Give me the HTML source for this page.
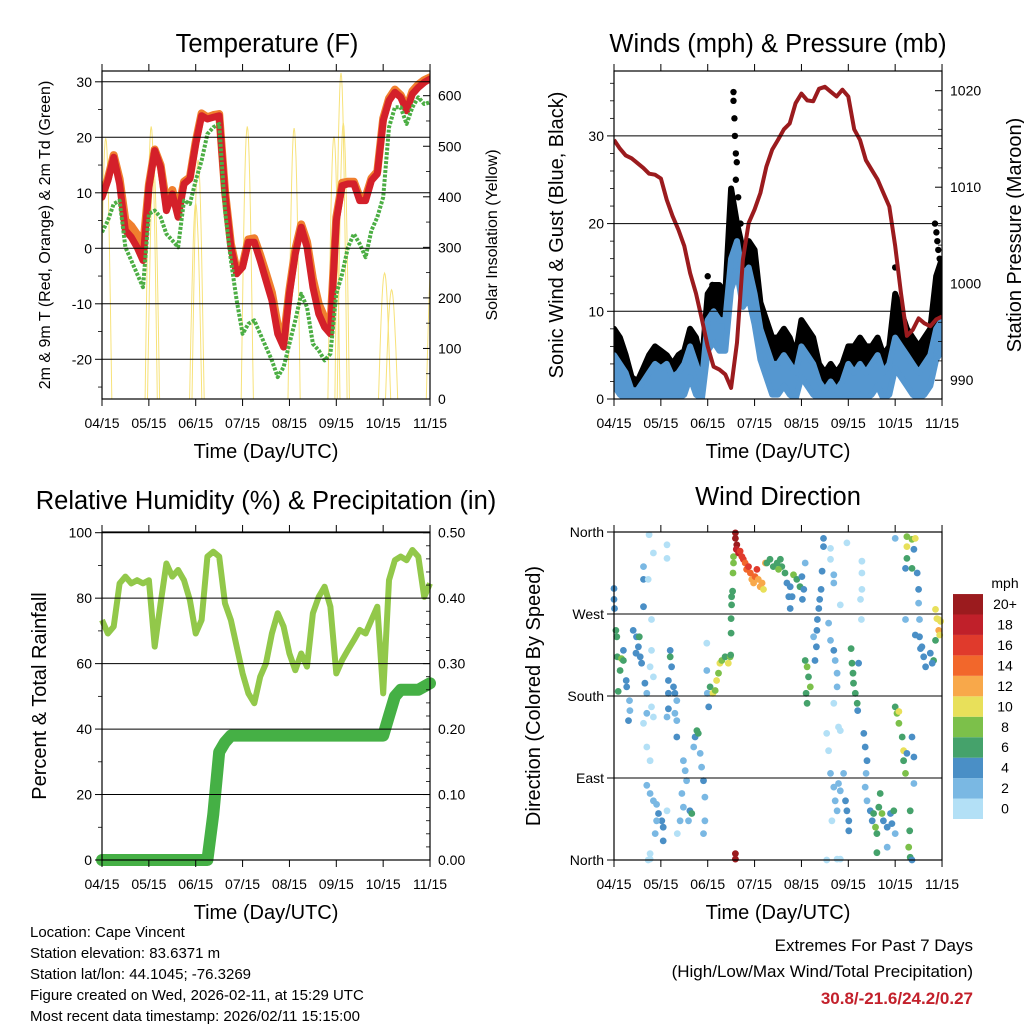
<!DOCTYPE html>
<html><head><meta charset="utf-8">
<style>
html,body{margin:0;padding:0;background:#fff;}
svg{display:block;font-family:"Liberation Sans",Arial,sans-serif;}
</style></head>
<body>
<svg id="fig" width="1024" height="1024" viewBox="0 0 1024 1024" xmlns="http://www.w3.org/2000/svg">
<rect width="1024" height="1024" fill="#fff"/>
<g id="p1"></g>
<g id="p2"></g>
<g id="p3"></g>
<g id="p4"></g>

<text x="267" y="52" font-size="25.5" text-anchor="middle">Temperature (F)</text>
<text x="778" y="52" font-size="25.5" text-anchor="middle">Winds (mph) &amp; Pressure (mb)</text>
<text x="266" y="509" font-size="25.5" text-anchor="middle">Relative Humidity (%) &amp; Precipitation (in)</text>
<text x="778" y="505" font-size="25.5" text-anchor="middle">Wind Direction</text>

<text x="266" y="458" font-size="20" text-anchor="middle">Time (Day/UTC)</text>
<text x="778" y="458" font-size="20" text-anchor="middle">Time (Day/UTC)</text>
<text x="266" y="919" font-size="20" text-anchor="middle">Time (Day/UTC)</text>
<text x="778" y="919" font-size="20" text-anchor="middle">Time (Day/UTC)</text>

<text transform="translate(50,235) rotate(-90)" font-size="16" text-anchor="middle">2m &amp; 9m T (Red, Orange) &amp; 2m Td (Green)</text>
<text transform="translate(497,235) rotate(-90)" font-size="16" text-anchor="middle">Solar Insolation (Yellow)</text>
<text transform="translate(563,235) rotate(-90)" font-size="20" text-anchor="middle">Sonic Wind &amp; Gust (Blue, Black)</text>
<text transform="translate(1021,235) rotate(-90)" font-size="20" text-anchor="middle">Station Pressure (Maroon)</text>
<text transform="translate(46,696) rotate(-90)" font-size="20" text-anchor="middle">Percent &amp; Total Rainfall</text>
<text transform="translate(540,696) rotate(-90)" font-size="20" text-anchor="middle">Direction (Colored By Speed)</text>

<g font-size="15">
<text x="30" y="937">Location: Cape Vincent</text>
<text x="30" y="958">Station elevation: 83.6371 m</text>
<text x="30" y="979">Station lat/lon: 44.1045; -76.3269</text>
<text x="30" y="1000">Figure created on Wed, 2026-02-11, at 15:29 UTC</text>
<text x="30" y="1021">Most recent data timestamp: 2026/02/11 15:15:00</text>
</g>
<g text-anchor="end">
<text x="973" y="951" font-size="17">Extremes For Past 7 Days</text>
<text x="973" y="977" font-size="17">(High/Low/Max Wind/Total Precipitation)</text>
<text x="973" y="1004" font-size="17" font-weight="bold" fill="#c3202b">30.8/-21.6/24.2/0.27</text>
</g>
</svg>
<script>
// ---------- data (time in months since 04/15, step 1/8) ----------
const monthLabels = ["04/15","05/15","06/15","07/15","08/15","09/15","10/15","11/15"];
const tempRed = [9.2,12.2,16.4,11.6,3.2,2,0.2,-2.2,11,17.6,14.6,6.8,9.8,5.6,11.6,12.5,18.8,23.9,23.3,23.6,23.9,9.8,0.2,-4.6,-3.4,1.1,1.1,-2.2,-5.8,-9.4,-15.4,-17.8,-8.2,-1,3.8,0.2,-7,-11.8,-14.2,-15.4,5,11.3,11.6,11.6,8.6,8.6,12.2,13.4,23,26.6,28.1,27.2,24.8,27.8,29,29.9,30.5];
const tempOrange = [9.5,12.6,16.8,12.5,5,4,2.5,0,11.5,17.8,15,8,10.5,6.5,12,12.8,19.2,24.3,23.6,24,24.2,10.3,0.8,-4,-3,1.6,1.8,-1.2,-4.5,-8,-13.8,-16.5,-7.5,-0.2,4.3,1.2,-5.5,-10,-12.5,-14,5.6,11.8,12,12,9.2,9.2,12.6,13.8,23.4,27,28.6,27.6,25.2,28.3,29.5,30.3,30.8];
const dewGreen = [2.9,5,8,8.6,0.2,-2.2,-4.6,-7,6.2,6.8,5.6,2.6,1.4,0.2,8.6,8,12.2,15.8,20.6,21.8,22.4,6.8,-2.2,-9.4,-15.4,-13.6,-13,-15.4,-17.8,-20.2,-23.2,-21.4,-17.2,-13,-8.2,-10.6,-17.2,-18.4,-20.2,-19,-8.2,-4.6,0.2,2.6,0.8,-1.6,3.2,5.6,9.2,21.8,25.4,25.4,22.4,25.4,27.2,26,26.3];
const solarPeakTime = [0.08,1.05,1.1,2.0,2.05,3.1,4.1,4.95,5.1,5.15,6.03,6.18,7.05];
const solarPeakValue = [516,539,460,387,473,539,536,519,645,546,249,216,300];
const pressure = [1014.9,1014.0,1013.3,1013,1012.5,1012,1011.4,1011.3,1010.9,1008.7,1007,1005.6,1003.9,1001.1,999,996.3,993.5,991.4,991.1,990.6,989.2,993.9,1002.5,1006.3,1007.7,1009.4,1012.1,1013.9,1014.9,1016,1016.6,1018.7,1019.7,1019,1018.9,1020.2,1020.4,1019.9,1019.4,1020.1,1019.4,1016,1014.9,1012.8,1011.8,1010.8,1009.4,1008,1003.9,999,994.6,995.2,996.4,995.9,995.6,996.3,996.6];
const windSpeed = [5,4,3,1,1,2,3,4,3.5,4,2.5,3,4,6,4,2,9,10,9,9,16,18,14,15,12,8,6,4,4,5,4,3,6,5,4,2,1,2,1,2,4,3,4,3,4,5,3,4,7,6,5,4,3,4,5,8,9];
const windGust = [8,7,5,2.5,2,3.5,5,6,5.5,5,4,5,5.5,8,7,4,12,13,13,12,24,20,17,18,17,11,9,7,7,8,7,5,9,8,7,4,3,4,3,4,6,6,7,6,6,7,5,6,12,10,8,7,6,7,8,14,16];
const gustPeakTime = [2.55,2.55,2.57,2.58,2.6,2.62,2.6,2.65,2.7,6.85,6.88,6.9,6.92,6.95,6.0,2.0,2.1];
const gustPeakValue = [35,34,32,30,28,27,25,23,20,20,19,18,17,16,15,14,13];
const humidity = [73.3,69.2,71.3,84.5,86.6,84.5,85.5,84.5,85.5,65.2,78.4,90.6,86.6,88.6,85.5,79.4,69.2,73.3,92.7,94.2,92.7,78.4,73.3,65.2,57,50.9,47.9,56,60.1,69.2,75.4,71.3,63.1,58,63.1,59.1,75.4,80.4,83.5,77.4,57,61.1,64.2,67.2,70.3,69.2,73.3,77.4,50.9,85.5,91.6,92.7,91.6,94.7,92.7,80.4,84.5];
const precip = [0,0,0,0,0,0,0,0,0,0,0,0,0,0,0,0,0,0,0,0.07,0.165,0.18,0.19,0.19,0.19,0.19,0.19,0.19,0.19,0.19,0.19,0.19,0.19,0.19,0.19,0.19,0.19,0.19,0.19,0.19,0.19,0.19,0.19,0.19,0.19,0.19,0.19,0.19,0.19,0.22,0.25,0.26,0.26,0.26,0.26,0.265,0.27];
const speedBins = ["0","2","4","6","8","10","12","14","16","18","20+"];
const speedColors = ["#b3e0f6","#7ab8e3","#4a8fc6","#45a26b","#7cc04a","#e8e05a","#f8a84a","#f2672b","#e03a2c","#c0202a","#9b1b1e"];
// wind direction observations: [time (months), direction (deg), speed (mph)]
const windObs = [
[0,298,4],[0,286,4],[0.01,276,4],[0.04,252,6],[0.06,245,6],[0.07,223,6],[0.16,221,8],[0.2,219,6],[0.13,208,6],[0.09,185,6],[0.2,230,4],[0.26,197,4],[0.27,190,4],[0.33,175,2],[0.34,164,2],[0.31,153,4],
[0.41,252,4],[0.48,245,4],[0.52,234,4],[0.56,223,4],[0.59,216,4],[0.47,227,4],[0.54,245,6],[0.63,322,2],[0.63,308,4],[0.63,278,4],[0.66,194,4],[0.7,183,2],[0.7,161,2],[0.73,308,0],[0.75,357,0],[0.84,337,0],[0.8,264,0],[0.8,230,0],[0.77,212,0],[0.84,201,0],[0.8,168,0],[0.84,157,0],[0.63,150,0],
[0.7,124,0],[0.77,109,0],[0.7,82,2],[0.77,73,2],[0.84,65,2],[0.91,61,2],[0.95,51,4],[1.02,43,4],[1.05,36,4],[1.05,21,4],[0.91,43,2],[0.88,29,2],[1.13,54,0],[0.77,7,0],[0.73,0,0],[0.77,1,0],
[1.13,346,0],[1.13,331,0],[1.2,230,4],[1.2,223,6],[1.23,212,4],[1.16,197,4],[1.27,190,4],[1.3,183,4],[1.34,175,2],[1.16,183,4],[1.16,166,4],[1.3,161,2],[1.34,153,2],[1.13,157,2],[1.34,135,4],
[1.48,109,2],[1.52,98,2],[1.55,87,2],[1.45,73,2],[1.48,58,2],[1.41,43,2],[1.35,29,0],[1.62,54,4],[1.66,51,6],[1.59,43,2],[1.7,124,2],[1.73,135,4],[1.77,142,6],[1.8,139,6],[1.84,117,2],[1.87,102,2],[1.91,87,4],[1.94,69,2],[1.94,43,2],[1.91,29,2],
[1.98,238,0],[1.98,208,2],[1.99,183,2],[2.02,168,4],[2.05,190,6],[2.11,183,10],[2.16,186,8],[2.19,197,10],[2.23,205,8],[2.26,216,10],[2.3,219,8],[2.37,223,6],[2.44,216,10],[2.48,223,8],[2.49,225,6],[2.5,249,6],[2.5,265,6],[2.51,280,6],[2.51,289,6],[2.53,295,6],[2.54,315,8],[2.55,326,8],[2.55,333,8],
[2.59,359,20],[2.59,353,20],[2.62,346,20],[2.61,341,18],[2.66,337,18],[2.69,339,16],[2.73,333,16],[2.76,330,16],[2.8,326,14],[2.83,319,14],[2.87,322,16],[2.91,315,14],[2.94,308,12],[2.98,304,12],[3.01,311,14],[3.05,319,16],[3.08,308,12],[3.12,300,12],[3.16,304,12],[3.19,297,10],[3.23,326,12],[3.26,326,6],[3.33,330,6],[3.4,322,6],[3.48,326,6],[3.55,330,6],[3.58,322,6],[3.51,319,8],[3.65,315,6],[3.69,304,4],[3.76,300,4],[3.83,313,8],[3.9,308,6],[3.97,300,6],[4.01,311,4],[4.05,297,4],[3.8,289,4],[3.73,289,4],[4.02,286,4],[3.76,276,4],[4.08,326,2],[2.59,7,20],[2.59,1,20],
[4.47,353,4],[4.47,344,4],[4.44,317,4],[4.42,297,4],[4.39,286,4],[4.37,276,4],[4.34,264,4],[4.33,252,4],[4.32,234,4],[4.29,219,4],[4.26,245,2],[4.08,219,6],[4.12,212,8],[4.15,201,6],[4.19,190,8],[4.1,183,6],[4.12,172,6],[4.58,260,2],[4.62,241,2],[4.69,230,4],[4.72,219,2],[4.76,205,2],[4.76,190,2],[4.69,172,0],[4.62,342,0],[4.62,330,0],[4.69,313,2],[4.69,304,2],[4.83,280,0],[4.97,348,0],[5.29,328,0],[5.29,315,0],[5.29,297,0],[5.26,286,0],[5.28,264,0],[4.79,146,0],[4.83,142,0],
[4.54,139,0],[4.58,120,0],[4.62,95,2],[4.69,80,2],[4.72,65,2],[4.76,54,2],[4.79,84,2],[4.83,76,2],[4.9,95,2],[4.94,65,4],[4.97,54,4],[5.01,43,4],[5.01,32,4],[4.65,43,0],[4.76,1,0],[4.83,1,0],[4.54,0,0],
[5.06,232,6],[5.08,216,6],[5.1,205,6],[5.11,194,6],[5.15,183,6],[5.19,172,6],[5.2,164,4],[5.22,216,4],[5.33,139,4],[5.36,124,4],[5.4,109,4],[5.38,95,2],[5.36,80,2],[5.4,65,2],[5.47,54,4],[5.51,43,4],[5.54,51,6],[5.58,36,8],[5.61,29,6],[5.65,58,6],[5.68,73,6],[5.72,51,8],[5.75,43,4],[5.83,36,4],[5.9,51,4],[5.93,40,4],[5.97,54,6],[6.0,29,2],[5.61,8,6],[5.83,14,2],
[6.0,168,6],[6.04,161,8],[6.08,163,10],[6.08,150,8],[6.15,135,6],[6.18,120,10],[6.18,109,6],[6.22,95,8],[6.25,117,4],[6.36,135,4],[6.4,113,4],[6.4,84,2],[6.32,54,6],[6.31,32,6],[6.29,14,8],[6.32,3,6],[6.36,0,4],[6.25,355,8],[6.25,344,10],[6.36,352,8],[6.43,353,10],[6.25,331,6],[6.22,320,4],[6.36,320,6],[6.4,341,4],[6.47,315,4],[6.5,297,4],[6.5,282,2],[6.52,264,2],[6.52,245,4],[6.54,232,4],[6.57,234,4],[6.61,223,4],[6.65,212,4],[6.75,227,4],[6.82,219,6],[6.79,216,4],[6.86,241,6],[6.43,247,4],[6.0,353,2],[6.22,264,2],[6.86,275,10],[6.89,265,10],[6.93,264,10],[6.97,262,10],[6.93,252,12],[6.95,247,10]
];

// ---------- helpers ----------
const NS = "http://www.w3.org/2000/svg";
function mk(tag, attrs, parent){ const e=document.createElementNS(NS,tag); for(const k in attrs) e.setAttribute(k,attrs[k]); parent.appendChild(e); return e; }
const STEP = 0.125;
const tOf = i => i*STEP;
const X1 = t => 102 + t*46.86;
const X2 = t => 614 + t*46.86;
const YT = v => 248.3 - v*5.55;
const YS = v => 399 - v*0.5055;
const YW = v => 399 - v*8.77;
const YP = p => 90.7 + (1020-p)*9.65;
const YH = v => 860 - v*3.273;
const YR = v => 860 - v*654.6;
const YD = d => 860 - d*0.9111;

function frame(g, x0, y0, x1, y1, X, name){
  monthLabels.forEach((lab,i)=>{
    const x = X(i);
    const tb = mk('line',{x1:x,x2:x,y1:y1,y2:y1+7,stroke:'#000','stroke-width':1},g);
    
    
    const tt = mk('line',{x1:x,x2:x,y1:y0,y2:y0-7,stroke:'#000','stroke-width':1},g);
    
    
    const tl = mk('text',{x:x,y:y1+29,'font-size':14,'text-anchor':'middle'},g);
    tl.textContent = lab;
    
    
  });
  const r = mk('rect',{x:x0,y:y0,width:x1-x0,height:y1-y0,fill:'none',stroke:'#000','stroke-width':1.2},g);
  
  
}
function leftTicks(g, vals, labels, Y, x0, x1, name, grid){
  vals.forEach((v,i)=>{
    const y = Y(v);
    if(grid){
      const gl = mk('line',{x1:x0,x2:x1,y1:y,y2:y,stroke:'#000','stroke-width':1},g);
      
      
    }
    const tk = mk('line',{x1:x0-7,x2:x0,y1:y,y2:y,stroke:'#000','stroke-width':1},g);
    
    
    const tl = mk('text',{x:x0-10,y:y+5,'font-size':14,'text-anchor':'end'},g);
    tl.textContent = labels[i];
    
    
  });
}
function rightTicks(g, vals, labels, Y, x1, name){
  vals.forEach((v,i)=>{
    const y = Y(v);
    const tk = mk('line',{x1:x1-7,x2:x1,y1:y,y2:y,stroke:'#000','stroke-width':1},g);
    
    
    const tl = mk('text',{x:x1+8,y:y+5,'font-size':14,'text-anchor':'start'},g);
    tl.textContent = labels[i];
    
    
  });
}
function minor(g, vals, Y, x, dir, name){
  vals.forEach(v=>{
    const y=Y(v);
    const m = mk('line',{x1:x,x2:x+dir*4,y1:y,y2:y,stroke:'#000','stroke-width':0.8},g);
    
    
  });
}
function pts(arr, X, Y){ return arr.map((v,i)=>X(tOf(i)).toFixed(1)+','+Y(v).toFixed(1)).join(' '); }

// ---------- Panel 1: temperature ----------
const g1 = document.getElementById('p1');
const clip1 = mk('clipPath',{id:'c1'},g1); mk('rect',{x:102,y:71,width:328,height:328},clip1);
const d1 = mk('g',{'clip-path':'url(#c1)'},g1);


leftTicks(g1,[30,20,10,0,-10,-20],["30","20","10","0","-10","-20"],YT,102,430,'temperature',true);
minor(g1,[25,15,5,-5,-15,-25],YT,102,-1,'temperature');
rightTicks(g1,[0,100,200,300,400,500,600],["0","100","200","300","400","500","600"],YS,430,'solar');
minor(g1,[50,150,250,350,450,550],YS,430,-1,'solar');
solarPeakTime.forEach((tc,i)=>{
  const hw = 0.13; let s='';
  for(let k=0;k<=20;k++){ const t=tc-hw+k*(2*hw/20); const v=solarPeakValue[i]*Math.sin(Math.PI*k/20); s+=X1(t).toFixed(1)+','+YS(v).toFixed(1)+' '; }
  const p = mk('polyline',{points:s,fill:'none',stroke:'#f7e27a','stroke-width':1},d1);
  
  
});
const lo = mk('polyline',{points:pts(tempOrange,X1,YT),fill:'none',stroke:'#f07f2e','stroke-width':8,'stroke-linejoin':'round','stroke-linecap':'round'},d1);


const lr = mk('polyline',{points:pts(tempRed,X1,YT),fill:'none',stroke:'#d4202a','stroke-width':7,'stroke-linejoin':'round','stroke-linecap':'round'},d1);


const lg = mk('polyline',{points:pts(dewGreen,X1,YT),fill:'none',stroke:'#4cae44','stroke-width':4,'stroke-dasharray':'3 1.5','stroke-linejoin':'round'},d1);


frame(g1,102,71,430,399,X1,'temperature');

// ---------- Panel 2: winds & pressure ----------
const g2 = document.getElementById('p2');
const clip2 = mk('clipPath',{id:'c2'},g2); mk('rect',{x:614,y:71,width:328,height:328},clip2);
const d2 = mk('g',{'clip-path':'url(#c2)'},g2);


leftTicks(g2,[0,10,20,30],["0","10","20","30"],YW,614,942,'wind',true);
minor(g2,[2,4,6,8,12,14,16,18,22,24,26,28,32,34,36],YW,614,-1,'wind');
rightTicks(g2,[990,1000,1010,1020],["990","1000","1010","1020"],YP,942,'pressure');
minor(g2,[992,994,996,998,1002,1004,1006,1008,1012,1014,1016,1018],YP,942,-1,'pressure');
{
  let top = windGust.map((v,i)=>X2(tOf(i)).toFixed(1)+','+YW(v).toFixed(1));
  let bot = windSpeed.map((v,i)=>X2(tOf(i)).toFixed(1)+','+YW(v).toFixed(1)).reverse();
  const gp = mk('polygon',{points:top.concat(bot).join(' '),fill:'#000',stroke:'#000','stroke-width':6,'stroke-linejoin':'round'},d2);
  
  
  gustPeakTime.forEach((t,i)=>{
    const c = mk('circle',{cx:X2(t),cy:YW(gustPeakValue[i]),r:3.2,fill:'#000'},d2);
    
    
  });
  let sl = windSpeed.map((v,i)=>X2(tOf(i)).toFixed(1)+','+YW(v).toFixed(1));
  let sb = windSpeed.map((v,i)=>X2(tOf(i)).toFixed(1)+','+YW(Math.max(0,v-3.5)).toFixed(1)).reverse();
  const sp = mk('polygon',{points:sl.concat(sb).join(' '),fill:'#5597d0',stroke:'#5597d0','stroke-width':6,'stroke-linejoin':'round'},d2);
  
  
  const pl = mk('polyline',{points:pts(pressure,X2,YP),fill:'none',stroke:'#9b1b1e','stroke-width':4,'stroke-linejoin':'round'},d2);
  
  
}
frame(g2,614,71,942,399,X2,'winds');

// ---------- Panel 3: humidity & precip ----------
const g3 = document.getElementById('p3');
const clip3 = mk('clipPath',{id:'c3'},g3); mk('rect',{x:95,y:530,width:345,height:340},clip3);
const d3 = mk('g',{'clip-path':'url(#c3)'},g3);


leftTicks(g3,[0,20,40,60,80,100],["0","20","40","60","80","100"],YH,102,430,'humidity',true);
minor(g3,[10,30,50,70,90],YH,102,-1,'humidity');
rightTicks(g3,[0,0.1,0.2,0.3,0.4,0.5],["0.00","0.10","0.20","0.30","0.40","0.50"],YR,430,'precip');
minor(g3,[0.02,0.04,0.06,0.08,0.12,0.14,0.16,0.18,0.22,0.24,0.26,0.28,0.32,0.34,0.36,0.38,0.42,0.44,0.46,0.48],YR,430,-1,'precip');
const rh = mk('polyline',{points:pts(humidity,X1,YH),fill:'none',stroke:'#92c84a','stroke-width':6,'stroke-linejoin':'round'},d3);


const pr = mk('polyline',{points:pts(precip,X1,YR),fill:'none',stroke:'#45b045','stroke-width':12,'stroke-linejoin':'round','stroke-linecap':'round'},d3);


frame(g3,102,532,430,860,X1,'humidity');

// ---------- Panel 4: wind direction ----------
const g4 = document.getElementById('p4');
const clip4 = mk('clipPath',{id:'c4'},g4); mk('rect',{x:610,y:528,width:336,height:336},clip4);
const d4 = mk('g',{'clip-path':'url(#c4)'},g4);


leftTicks(g4,[0,90,180,270,360],["North","East","South","West","North"],YD,614,942,'direction',true);
windObs.forEach(o=>{
  let bin = Math.min(10, Math.floor(o[2]/2));
  const c = mk('circle',{cx:X2(o[0]).toFixed(1),cy:YD(o[1]).toFixed(1),r:3.4,fill:speedColors[bin]},d4);
  
  
});
frame(g4,614,532,942,860,X2,'direction');
const cb = mk('g',{},g4);


const cbt = mk('text',{x:1005,y:588,'font-size':14,'text-anchor':'middle'},cb);
cbt.textContent='mph';


speedBins.forEach((lab,i)=>{
  const y = 819 - (i+1)*20.45;
  const r = mk('rect',{x:953,y:y,width:30,height:20.45,fill:speedColors[i]},cb);
  
  
  const t = mk('text',{x:1005,y:y+15,'font-size':14,'text-anchor':'middle'},cb);
  t.textContent = lab;
  
  
});
</script>
</body></html>
